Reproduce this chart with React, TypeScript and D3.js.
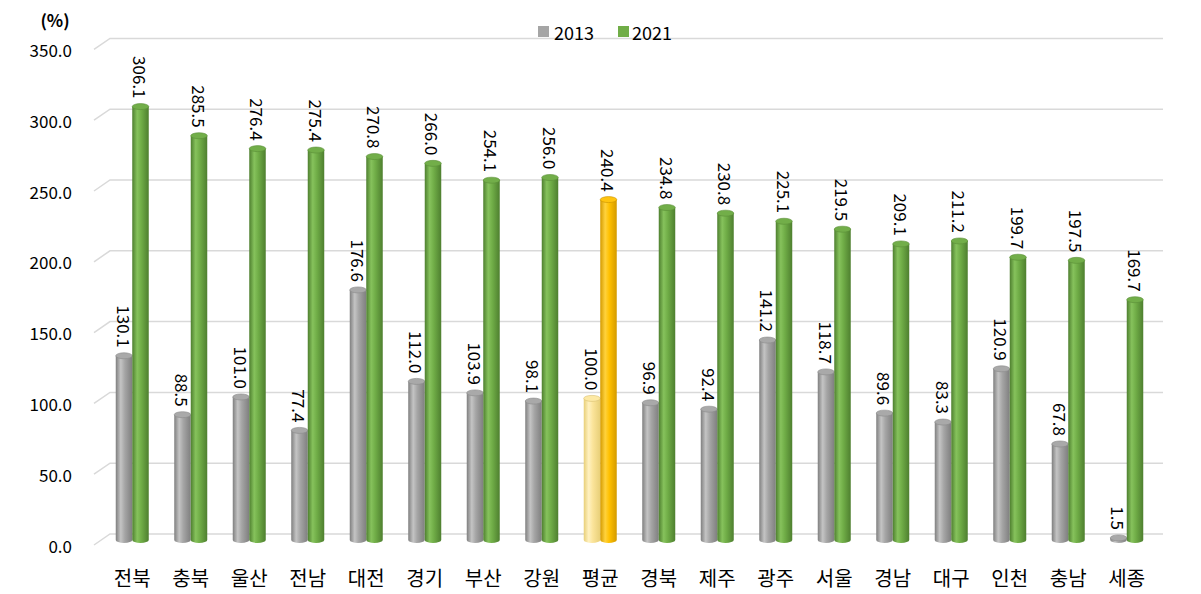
import React from 'react';
import * as d3 from 'd3';

const categories = ['전북','충북','울산','전남','대전','경기','부산','강원','평균','경북','제주','광주','서울','경남','대구','인천','충남','세종'];
const series = ['2013', '2021'];
const values2013 = [130.1, 88.5, 101.0, 77.4, 176.6, 112.0, 103.9, 98.1, 100.0, 96.9, 92.4, 141.2, 118.7, 89.6, 83.3, 120.9, 67.8, 1.5];
const values2021 = [306.1, 285.5, 276.4, 275.4, 270.8, 266.0, 254.1, 256.0, 240.4, 234.8, 230.8, 225.1, 219.5, 209.1, 211.2, 199.7, 197.5, 169.7];
const yTicks = [0, 50, 100, 150, 200, 250, 300, 350];
const highlightCategory = '평균';

const W = 1201;
const H = 594;
const FONT = "'Noto Sans CJK KR', 'Noto Sans', sans-serif";

type Pal = { dark: string; mid: string; light: string; top: string; topStroke: string };
const palettes: Record<string, Pal> = {
  gray: { dark: '#7f7f7f', mid: '#a5a5a5', light: '#c4c4c4', top: '#a9a9a9', topStroke: '#8a8a8a' },
  green: { dark: '#4e7f2f', mid: '#70ad47', light: '#86c25c', top: '#72ae49', topStroke: '#5a8f38' },
  paleGold: { dark: '#e8cf78', mid: '#fbe49a', light: '#fff1c0', top: '#fde9a4', topStroke: '#d9c071' },
  gold: { dark: '#d39a00', mid: '#ffc000', light: '#ffd23d', top: '#ffc40f', topStroke: '#c99200' },
};

export default function App() {
  const y = d3.scaleLinear().domain([0, 350]).range([540, 44.4]);
  const x = d3.scaleBand<string>().domain(categories).range([103, 1156]).paddingInner(0.436).paddingOuter(0.218);
  const xs = d3.scaleBand<string>().domain(series).range([0, x.bandwidth()]).padding(0);
  const bw = xs.bandwidth();
  const ry = 3;
  const fmt = d3.format('.1f');

  const palFor = (cat: string, s: string) => {
    if (cat === highlightCategory) return s === '2013' ? 'paleGold' : 'gold';
    return s === '2013' ? 'gray' : 'green';
  };

  const bars: JSX.Element[] = [];
  const labels: JSX.Element[] = [];
  categories.forEach((cat, i) => {
    series.forEach((s) => {
      const v = s === '2013' ? values2013[i] : values2021[i];
      const pk = palFor(cat, s);
      const p = palettes[pk];
      const x0 = (x(cat) as number) + (xs(s) as number);
      const cx = x0 + bw / 2;
      const yTop = y(v);
      const yBot = y(0);
      bars.push(
        <g key={`${cat}-${s}`}>
          <path
            d={`M${x0},${yTop} L${x0},${yBot} A${bw / 2},${ry} 0 0 0 ${x0 + bw},${yBot} L${x0 + bw},${yTop} Z`}
            fill={`url(#grad-${pk})`}
          />
          <ellipse cx={cx} cy={yTop} rx={bw / 2} ry={ry} fill={p.top} stroke={p.topStroke} strokeWidth={0.6} />
        </g>
      );
      const ly = yTop - 8;
      labels.push(
        <text
          key={`l-${cat}-${s}`}
          x={cx}
          y={ly}
          transform={`rotate(90 ${cx} ${ly})`}
          textAnchor="end"
          dominantBaseline="central"
          fontSize={17}
          fontFamily={FONT}
          fill="#000"
        >
          {fmt(v)}
        </text>
      );
    });
  });

  const backDx = 16;
  const frontX = 94;
  const wallRight = 1163;

  return (
    <div style={{ position: 'absolute', left: 0, top: 0 }}>
      <svg width={W} height={H} style={{ display: 'block', background: '#fff' }}>
        <defs>
          {Object.entries(palettes).map(([k, p]) => (
            <linearGradient key={k} id={`grad-${k}`} x1="0" x2="1" y1="0" y2="0">
              <stop offset="0%" stopColor={p.dark} />
              <stop offset="30%" stopColor={p.light} />
              <stop offset="55%" stopColor={p.mid} />
              <stop offset="100%" stopColor={p.dark} />
            </linearGradient>
          ))}
        </defs>
        {/* gridlines */}
        {yTicks.map((t) => {
          const yb = y(t) - 6;
          const yf = y(t) + 5;
          return (
            <g key={`g${t}`}>
              <path
                d={`M${frontX},${yf} L${frontX + backDx},${yb} L${wallRight},${yb}`}
                fill="none"
                stroke="#d9d9d9"
                strokeWidth={1.5}
              />
              <text
                x={72}
                y={yf}
                textAnchor="end"
                dominantBaseline="central"
                fontSize={17}
                fontFamily={FONT}
                fill="#000"
              >
                {fmt(t)}
              </text>
            </g>
          );
        })}
        <text x={55} y={19} textAnchor="middle" dominantBaseline="central" fontSize={17} fontWeight="bold" fontFamily={FONT}>
          (%)
        </text>
        {bars}
        {labels}
        {categories.map((cat) => (
          <text
            key={`c-${cat}`}
            x={(x(cat) as number) + x.bandwidth() / 2}
            y={577}
            textAnchor="middle"
            dominantBaseline="central"
            fontSize={20}
            fontFamily={FONT}
            fill="#000"
          >
            {cat}
          </text>
        ))}
        {/* legend */}
        <g>
          <rect x={538} y={26} width={11} height={11} fill={palettes.gray.mid} />
          <text x={554} y={32} dominantBaseline="central" fontSize={18} fontFamily={FONT}>2013</text>
          <rect x={618} y={26} width={11} height={11} fill={palettes.green.mid} />
          <text x={632} y={32} dominantBaseline="central" fontSize={18} fontFamily={FONT}>2021</text>
        </g>
      </svg>
    </div>
  );
}
